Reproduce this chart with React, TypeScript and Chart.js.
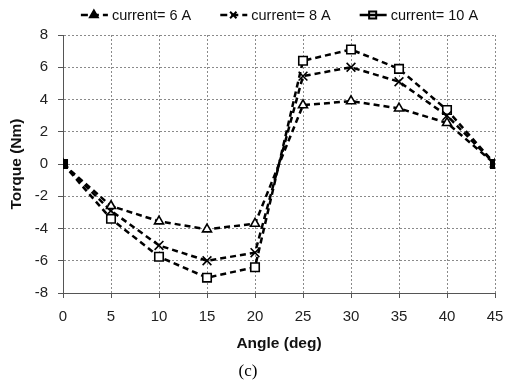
import React, { useEffect, useRef } from "react";
import { Chart, registerables } from "chart.js";
import { drawPoint } from "chart.js/helpers";

Chart.register(...registerables);

const angles = [0, 5, 10, 15, 20, 25, 30, 35, 40, 45];
const torque6A = [0, -2.6, -3.55, -4.05, -3.7, 3.65, 3.9, 3.45, 2.55, 0];
const torque8A = [0, -2.9, -5.05, -6.0, -5.5, 5.45, 6.0, 5.1, 3.0, 0];
const torque10A = [0, -3.4, -5.75, -7.05, -6.4, 6.4, 7.1, 5.9, 3.35, 0];
const seriesLabels = ["current= 6 A", "current= 8 A", "current= 10 A"];
const xTitle = "Angle (deg)";
const yTitle = "Torque (Nm)";
const caption = "(c)";

const SANS = '"Liberation Sans", Arial, sans-serif';
const SERIF = '"Liberation Serif", "Times New Roman", serif';

const legendPlugin = {
  id: "customLegend",
  afterDraw(chart: any) {
    const ctx = chart.ctx as CanvasRenderingContext2D;
    const ca = chart.chartArea;
    ctx.save();
    ctx.font = `14.5px ${SANS}`;
    ctx.textBaseline = "middle";
    ctx.textAlign = "left";
    const lineW = 28, gap = 4, spacing = 28;
    const items = chart.data.datasets.map((ds: any) => ({ ds, w: ctx.measureText(ds.label).width }));
    const total =
      items.reduce((a: number, it: any) => a + lineW + gap + it.w, 0) + spacing * (items.length - 1);
    let x = (ca.left + ca.right) / 2 - total / 2;
    const y = 15;
    for (const it of items) {
      const ds = it.ds;
      const open = ds.pointStyle === "rect";
      ctx.setLineDash([]);
      ctx.fillStyle = open ? "#fff" : "#000";
      ctx.strokeStyle = "#000";
      ctx.lineWidth = 2;
      drawPoint(
        ctx,
        { pointStyle: ds.pointStyle, radius: open ? 5 : 4.5, rotation: 0, borderWidth: 2 } as any,
        x + lineW / 2,
        y
      );
      ctx.strokeStyle = "#000";
      ctx.lineWidth = 2.5;
      ctx.setLineDash(open ? [] : [7, 4]);
      ctx.beginPath();
      ctx.moveTo(x + 1, y);
      ctx.lineTo(x + lineW, y);
      ctx.stroke();
      ctx.setLineDash([]);
      ctx.fillStyle = "#111";
      ctx.fillText(ds.label, x + lineW + gap, y + 1);
      x += lineW + gap + it.w + spacing;
    }
    ctx.font = `17px ${SERIF}`;
    ctx.textAlign = "center";
    ctx.fillStyle = "#000";
    ctx.fillText(caption, 248, 372);
    ctx.restore();
  },
};

export default function App() {
  const ref = useRef<HTMLCanvasElement | null>(null);
  useEffect(() => {
    if (!ref.current) return;
    const last = angles.length - 1;
    const pointFill = (c: any) => (c.dataIndex === 0 || c.dataIndex === last ? "#000" : "#fff");
    const mk = (label: string, vals: number[], style: string, r: number) => ({
      label,
      data: angles.map((a, i) => ({ x: a, y: vals[i] })),
      borderColor: "#000",
      borderWidth: 2.5,
      borderDash: [6, 4],
      tension: 0,
      pointStyle: style,
      pointRadius: r,
      pointHoverRadius: r,
      pointBorderColor: "#000",
      pointBorderWidth: 1.6,
      pointBackgroundColor: pointFill,
      fill: false,
    });
    const tickFont = { family: SANS, size: 15 };
    const titleFont = { family: SANS, size: 15.5, weight: "bold" };
    const chart = new Chart(ref.current, {
      type: "line",
      data: {
        datasets: [
          mk(seriesLabels[0], torque6A, "triangle", 5.2),
          mk(seriesLabels[1], torque8A, "crossRot", 6.2),
          mk(seriesLabels[2], torque10A, "rect", 6),
        ],
      },
      options: {
        responsive: false,
        animation: false,
        layout: { padding: { top: 35, left: 0, right: 10, bottom: 33 } },
        plugins: { legend: { display: false }, tooltip: { enabled: false } },
        scales: {
          x: {
            type: "linear",
            min: 0,
            max: 45,
            afterFit: (s: any) => {
              s.height = 64;
              s.paddingLeft = 0;
              s.paddingRight = 0;
            },
            ticks: { stepSize: 5, color: "#222", font: tickFont, padding: 10 },
            grid: { color: "#8a8a8a", lineWidth: 1, tickLength: 5, tickColor: "#555", tickBorderDash: [] },
            border: { color: "#555", width: 1, dash: [2, 2] },
            title: {
              display: true,
              text: xTitle,
              color: "#111",
              font: titleFont,
              padding: { top: 4, bottom: 4 },
            },
          },
          y: {
            min: -8,
            max: 8,
            afterFit: (s: any) => {
              s.width = 63;
              s.paddingTop = 0;
              s.paddingBottom = 0;
            },
            ticks: { stepSize: 2, color: "#222", font: tickFont, padding: 10 },
            grid: { color: "#8a8a8a", lineWidth: 1, tickLength: 5, tickColor: "#555", tickBorderDash: [] },
            border: { color: "#555", width: 1, dash: [2, 2] },
            title: {
              display: true,
              text: yTitle,
              color: "#111",
              font: titleFont,
              padding: { top: 7, bottom: 4 },
            },
          },
        },
      },
      plugins: [legendPlugin],
    } as any);
    return () => chart.destroy();
  }, []);
  return (
    <div style={{ position: "fixed", left: 0, top: 0, width: 505, height: 390, background: "#fff" }}>
      <canvas ref={ref} width={505} height={390} style={{ display: "block" }} />
    </div>
  );
}
